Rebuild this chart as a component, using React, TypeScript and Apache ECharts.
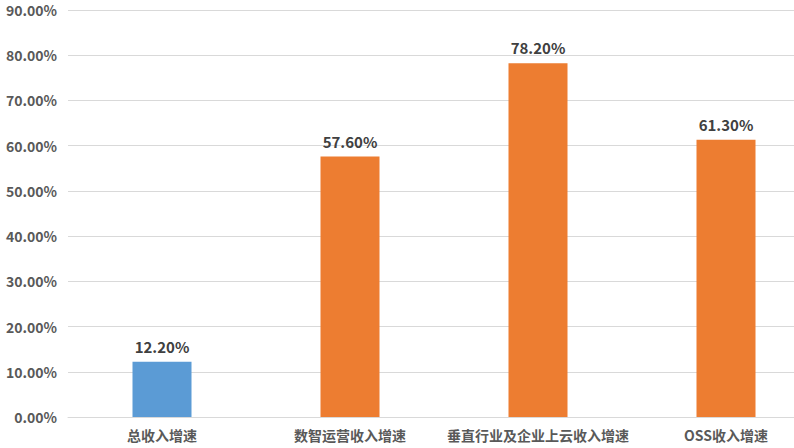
import React, { useEffect, useRef } from 'react';
import * as echarts from 'echarts';

const categories = ['总收入增速', '数智运营收入增速', '垂直行业及企业上云收入增速', 'OSS收入增速'];
const growthValues = [12.2, 57.6, 78.2, 61.3];
const barColors = ['#5B9BD5', '#ED7D31', '#ED7D31', '#ED7D31'];

const fontFamily = '"Noto Sans CJK SC", "Open Sans", sans-serif';

const App: React.FC = () => {
  const chartRef = useRef<HTMLDivElement>(null);

  useEffect(() => {
    if (!chartRef.current) return;
    document.body.style.margin = '0';

    const chart = echarts.init(chartRef.current, undefined, { renderer: 'svg' });

    const option: any = {
      animation: false,
      grid: {
        left: 68,
        top: 10,
        width: 752,
        height: 407,
        outerBoundsMode: 'none',
      },
      xAxis: {
        type: 'category',
        data: categories,
        axisLine: { lineStyle: { color: '#d9d9d9' } },
        axisTick: { show: false },
        axisLabel: {
          interval: 0,
          hideOverlap: false,
          color: '#595959',
          fontSize: 14,
          fontWeight: 'bold',
          fontFamily,
          margin: 11,
        },
      },
      yAxis: {
        type: 'value',
        min: 0,
        max: 90,
        interval: 10,
        axisLine: { show: false },
        axisTick: { show: false },
        splitLine: { lineStyle: { color: '#d9d9d9' } },
        axisLabel: {
          color: '#595959',
          fontSize: 14,
          fontWeight: 'bold',
          fontFamily,
          margin: 11,
          formatter: (v: number) => v.toFixed(2) + '%',
        },
      },
      series: [
        {
          type: 'bar',
          barWidth: 59,
          data: growthValues.map((v, i) => ({ value: v, itemStyle: { color: barColors[i] } })),
          label: {
            show: true,
            position: 'top',
            distance: 8,
            color: '#404040',
            fontSize: 15,
            fontWeight: 'bold',
            fontFamily,
            formatter: (p: any) => Number(p.value).toFixed(2) + '%',
          },
        },
      ],
    };

    chart.setOption(option);

    return () => {
      chart.dispose();
    };
  }, []);

  return <div ref={chartRef} style={{ width: '794px', height: '448px' }} />;
};

export default App;
